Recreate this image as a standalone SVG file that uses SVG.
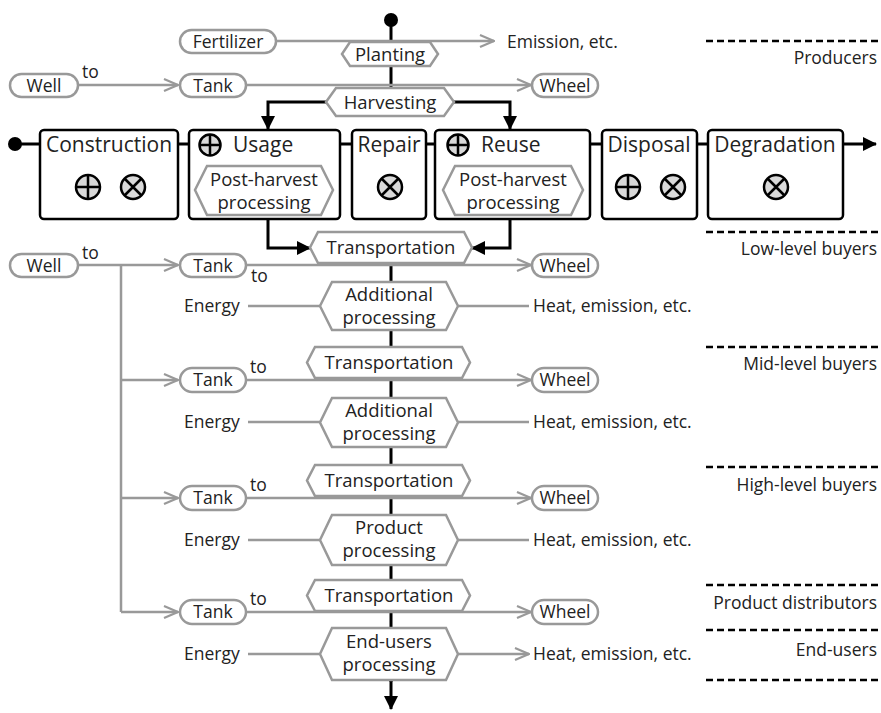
<svg xmlns="http://www.w3.org/2000/svg" width="881" height="713" viewBox="0 0 881 713">
<defs>
<marker id="ga" viewBox="0 0 16 16" refX="15" refY="8" markerWidth="16" markerHeight="16" markerUnits="userSpaceOnUse" orient="auto"><path d="M1,2 L15,8 L1,14" fill="none" stroke="#999" stroke-width="2.2"/></marker>
<marker id="ba" viewBox="0 0 14 14" refX="13" refY="7" markerWidth="14" markerHeight="14" markerUnits="userSpaceOnUse" orient="auto"><path d="M0,0 L14,7 L0,14 Z" fill="#000"/></marker>
<g id="plus"><circle r="12" fill="#d9d9d9" stroke="#000" stroke-width="2.5"/><path d="M-12,0H12M0,-12V12" stroke="#000" stroke-width="2.5"/></g>
<g id="times"><circle r="12" fill="#d9d9d9" stroke="#000" stroke-width="2.5"/><path d="M-8.5,-8.5L8.5,8.5M-8.5,8.5L8.5,-8.5" stroke="#000" stroke-width="2.5"/></g>
<g id="plusS"><circle r="10.5" fill="#d9d9d9" stroke="#000" stroke-width="2.5"/><path d="M-10.5,0H10.5M0,-10.5V10.5" stroke="#000" stroke-width="2.5"/></g>
</defs>
<style>
text{font-family:"Open Sans","Noto Sans","Liberation Sans",sans-serif;fill:#222;font-size:17.5px}
.c{text-anchor:middle}
.r{text-anchor:end}
.t{font-size:21px}
.h{font-size:18.5px}
.pill{fill:#fff;stroke:#999;stroke-width:2.5}
.hex{fill:#fff;stroke:#999;stroke-width:2.5}
.box{fill:#fff;stroke:#000;stroke-width:2.5}
.g{fill:none;stroke:#999;stroke-width:2.5}
.gm{fill:none;stroke:#999;stroke-width:2.5;marker-end:url(#ga)}
.b{fill:none;stroke:#000;stroke-width:3}
.bm{fill:none;stroke:#000;stroke-width:3;marker-end:url(#ba)}
.d{stroke:#000;stroke-width:2.5;stroke-dasharray:7 4}
</style>
<rect width="881" height="713" fill="#fff"/>

<g id="connectors">
<circle cx="391" cy="20" r="7" fill="#000"/>
<path class="b" d="M391,20V88"/>
<path class="gm" d="M276,41H494"/>
<path class="gm" d="M78,85H178"/>
<path class="gm" d="M245,85H531"/>
<path class="bm" d="M326,102H268V129"/>
<path class="bm" d="M454,102H510V129"/>
<circle cx="15" cy="144" r="7" fill="#000"/>
<path class="b" d="M15,144H40M178,144H189M340,144H352M426,144H435M590,144H602M697,144H708"/>
<path class="bm" d="M843,144H876"/>
<path class="bm" d="M268,219V248H310"/>
<path class="bm" d="M510,219V248H472"/>
<path class="b" d="M391,262V682"/>
<path class="bm" d="M391,680V709"/>
<path class="gm" d="M78,265H178"/>
<path class="g" d="M121,265V612"/>
<path class="gm" d="M121,380H178"/>
<path class="gm" d="M121,498H178"/>
<path class="gm" d="M121,612H178"/>
<path class="gm" d="M246,265H531"/>
<path class="gm" d="M246,380H531"/>
<path class="gm" d="M246,498H531"/>
<path class="gm" d="M246,612H531"/>
<path class="g" d="M248,306H320M248,422H320M248,540H320M248,654H320"/>
<path class="gm" d="M458,306H529M458,422H529M458,540H529M458,654H529"/>
</g>

<g id="fertilizer"><rect class="pill" x="180" y="30" width="96" height="23" rx="11.5"/><text class="c" x="228" y="47.5">Fertilizer</text></g>
<text x="507" y="47.5">Emission, etc.</text>
<g id="planting"><path class="hex" d="M350,42H430L438,54L430,66H350L342,54Z"/><text class="c h" x="390" y="60.5">Planting</text></g>
<g id="well1"><rect class="pill" x="10" y="74" width="68" height="23" rx="11.5"/><text class="c" x="44" y="91.5">Well</text></g>
<text x="82" y="78">to</text>
<g id="tank0"><rect class="pill" x="180" y="74" width="66" height="23" rx="11.5"/><text class="c" x="213" y="91.5">Tank</text></g>
<g id="wheel0"><rect class="pill" x="532" y="74" width="66" height="23" rx="11.5"/><text class="c" x="565" y="91.5">Wheel</text></g>
<g id="harvesting"><path class="hex" d="M336,88H444L454,102L444,116H336L326,102Z"/><text class="c h" x="390" y="108.5">Harvesting</text></g>

<g id="construction"><rect class="box" x="40" y="130" width="138" height="89" rx="4"/><text class="c t" x="109" y="152">Construction</text><use href="#plus" x="88" y="187"/><use href="#times" x="133" y="187"/></g>
<g id="usage"><rect class="box" x="189" y="130" width="151" height="89" rx="4"/><use href="#plusS" x="210" y="145"/><text class="t" x="233" y="152">Usage</text><path class="hex" d="M207,166H321L333,190L321,215H207L195,190Z"/><text class="c h" x="264" y="186">Post-harvest</text><text class="c h" x="264" y="209">processing</text></g>
<g id="repair"><rect class="box" x="352" y="130" width="74" height="89" rx="4"/><text class="c t" x="389" y="152">Repair</text><use href="#times" x="390" y="187"/></g>
<g id="reuse"><rect class="box" x="435" y="130" width="155" height="89" rx="4"/><use href="#plusS" x="458" y="145"/><text class="t" x="481" y="152">Reuse</text><path class="hex" d="M455,166H571L583,190L571,215H455L443,190Z"/><text class="c h" x="513" y="186">Post-harvest</text><text class="c h" x="513" y="209">processing</text></g>
<g id="disposal"><rect class="box" x="602" y="130" width="95" height="89" rx="4"/><text class="c t" x="649" y="152">Disposal</text><use href="#plus" x="628" y="187"/><use href="#times" x="673" y="187"/></g>
<g id="degradation"><rect class="box" x="708" y="130" width="135" height="89" rx="4"/><text class="c t" x="775" y="152">Degradation</text><use href="#times" x="776" y="187"/></g>

<g id="well2"><rect class="pill" x="10" y="254" width="68" height="23" rx="11.5"/><text class="c" x="44" y="271.5">Well</text></g>
<text x="82" y="259">to</text>

<g id="transport1"><path class="hex" d="M318,232H464L472,247.5L464,263H318L310,247.5Z"/><text class="c h" x="391" y="254">Transportation</text></g>
<g id="tank1"><rect class="pill" x="180" y="254" width="66" height="23" rx="11.5"/><text class="c" x="213" y="271.5">Tank</text></g>
<text x="251" y="282">to</text>
<g id="wheel1"><rect class="pill" x="532" y="254" width="66" height="23" rx="11.5"/><text class="c" x="565" y="271.5">Wheel</text></g>
<text x="184" y="312">Energy</text>
<g id="addproc1"><path class="hex" d="M332,282H446L458,306L446,330H332L320,306Z"/><text class="c h" x="389" y="301">Additional</text><text class="c h" x="389" y="324">processing</text></g>
<text x="533" y="312">Heat, emission, etc.</text>

<g id="transport2"><path class="hex" d="M315,347H462L470,362.5L462,378H315L307,362.5Z"/><text class="c h" x="389" y="369">Transportation</text></g>
<g id="tank2"><rect class="pill" x="180" y="368" width="66" height="24" rx="12"/><text class="c" x="213" y="386">Tank</text></g>
<text x="250" y="373">to</text>
<g id="wheel2"><rect class="pill" x="532" y="368" width="66" height="24" rx="12"/><text class="c" x="565" y="386">Wheel</text></g>
<text x="184" y="428">Energy</text>
<g id="addproc2"><path class="hex" d="M332,398H446L458,422.5L446,447H332L320,422.5Z"/><text class="c h" x="389" y="417">Additional</text><text class="c h" x="389" y="440">processing</text></g>
<text x="533" y="428">Heat, emission, etc.</text>

<g id="transport3"><path class="hex" d="M315,465H462L470,480.5L462,496H315L307,480.5Z"/><text class="c h" x="389" y="487">Transportation</text></g>
<g id="tank3"><rect class="pill" x="180" y="486" width="66" height="24" rx="12"/><text class="c" x="213" y="504">Tank</text></g>
<text x="250" y="491">to</text>
<g id="wheel3"><rect class="pill" x="532" y="486" width="66" height="24" rx="12"/><text class="c" x="565" y="504">Wheel</text></g>
<text x="184" y="546">Energy</text>
<g id="prodproc"><path class="hex" d="M332,515H446L458,540L446,565H332L320,540Z"/><text class="c h" x="389" y="534">Product</text><text class="c h" x="389" y="557">processing</text></g>
<text x="533" y="546">Heat, emission, etc.</text>

<g id="transport4"><path class="hex" d="M315,580H462L470,595.5L462,611H315L307,595.5Z"/><text class="c h" x="389" y="602">Transportation</text></g>
<g id="tank4"><rect class="pill" x="180" y="600" width="66" height="24" rx="12"/><text class="c" x="213" y="618">Tank</text></g>
<text x="250" y="605">to</text>
<g id="wheel4"><rect class="pill" x="532" y="600" width="66" height="24" rx="12"/><text class="c" x="565" y="618">Wheel</text></g>
<text x="184" y="660">Energy</text>
<g id="endproc"><path class="hex" d="M332,628H446L458,654L446,680H332L320,654Z"/><text class="c h" x="389" y="648">End-users</text><text class="c h" x="389" y="671">processing</text></g>
<text x="533" y="660">Heat, emission, etc.</text>

<g id="levels">
<path class="d" d="M706,41H878M706,232H878M706,347H878M706,467H878M706,585H878M706,630H878M706,680H878"/>
<text class="r" x="877" y="64">Producers</text>
<text class="r" x="877" y="255">Low-level buyers</text>
<text class="r" x="877" y="370">Mid-level buyers</text>
<text class="r" x="877" y="491">High-level buyers</text>
<text class="r" x="877" y="609">Product distributors</text>
<text class="r" x="877" y="656">End-users</text>
</g>
</svg>
